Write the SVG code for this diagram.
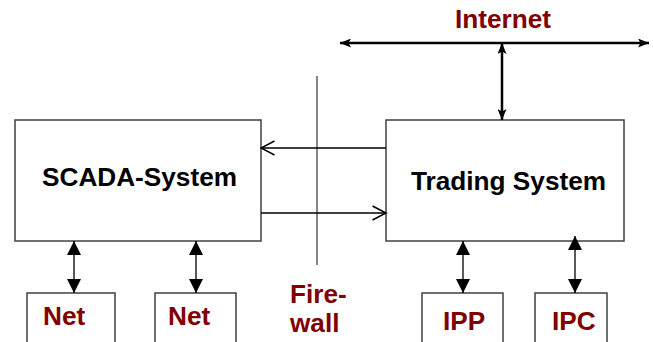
<svg xmlns="http://www.w3.org/2000/svg" width="653" height="342" viewBox="0 0 653 342">
<style>
.box{fill:#fff;stroke:#404040;stroke-width:1.5}
.lbl{font-family:"Liberation Sans",Arial,sans-serif;font-weight:bold;font-size:26.2px;fill:#000}
.red{fill:#800000}
.ln{stroke:#000;stroke-width:1.3;fill:none}
.thick{stroke:#000;stroke-width:2.5;fill:none}
</style>
<defs>
<marker id="tri" viewBox="0 0 14 14" refX="14" refY="7" markerWidth="14" markerHeight="14" markerUnits="userSpaceOnUse" orient="auto-start-reverse">
<path d="M0,0 L14,7 L0,14 z" fill="#000"/>
</marker>
<marker id="sm" viewBox="0 0 11 9" refX="11" refY="4.5" markerWidth="11" markerHeight="9" markerUnits="userSpaceOnUse" orient="auto-start-reverse">
<path d="M0,0 L11,4.5 L0,9 L2.5,4.5 z" fill="#000"/>
</marker>
<marker id="chev" viewBox="0 0 16 16" refX="14.5" refY="8" markerWidth="16" markerHeight="16" markerUnits="userSpaceOnUse" orient="auto">
<path d="M1,1 L14.5,8 L1,15" fill="none" stroke="#000" stroke-width="1.5"/>
</marker>
</defs>
<g id="scada"><rect class="box" x="15" y="120" width="246" height="121"/><text class="lbl" x="42" y="186">SCADA-System</text></g>
<g id="trading"><rect class="box" x="386" y="120" width="238" height="121"/><text class="lbl" x="411" y="190">Trading System</text></g>
<g id="net1"><rect class="box" x="27" y="293" width="88" height="50"/><text class="lbl red" x="43" y="325">Net</text></g>
<g id="net2"><rect class="box" x="155" y="293" width="81" height="50"/><text class="lbl red" x="168" y="325">Net</text></g>
<g id="ipp"><rect class="box" x="422" y="293" width="81" height="50"/><text class="lbl red" x="443" y="330">IPP</text></g>
<g id="ipc"><rect class="box" x="535" y="293" width="72" height="50"/><text class="lbl red" x="552" y="330">IPC</text></g>
<g id="internet"><text class="lbl red" x="503" y="28" text-anchor="middle">Internet</text></g>
<g id="firewall"><line x1="317" y1="76" x2="317" y2="265" stroke="#333" stroke-width="1.2"/><text class="lbl red" x="290" y="303">Fire-</text><text class="lbl red" x="290" y="332">wall</text></g>
<g id="connectors">
<line class="thick" x1="340" y1="43" x2="649" y2="43" marker-start="url(#sm)" marker-end="url(#sm)"/>
<line class="thick" x1="502" y1="43" x2="502" y2="120" stroke-width="2" marker-start="url(#sm)" marker-end="url(#sm)"/>
<line class="ln" x1="386" y1="148" x2="261" y2="148" marker-end="url(#chev)"/>
<line class="ln" x1="261" y1="213" x2="386" y2="213" marker-end="url(#chev)"/>
<line class="ln" x1="74" y1="241" x2="74" y2="293" marker-start="url(#tri)" marker-end="url(#tri)"/>
<line class="ln" x1="196" y1="241" x2="196" y2="293" marker-start="url(#tri)" marker-end="url(#tri)"/>
<line class="ln" x1="463" y1="241" x2="463" y2="293" marker-start="url(#tri)" marker-end="url(#tri)"/>
<line class="ln" x1="575" y1="236" x2="575" y2="293" marker-start="url(#tri)" marker-end="url(#tri)"/>
</g>
</svg>
